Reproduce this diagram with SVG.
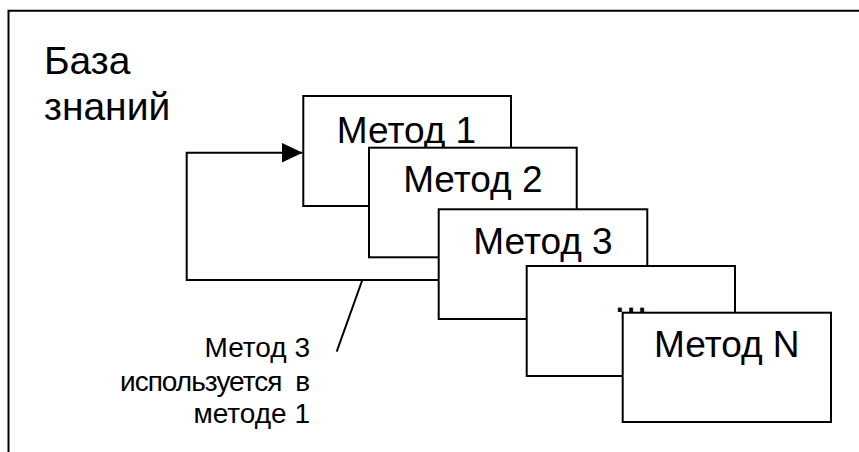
<svg xmlns="http://www.w3.org/2000/svg" width="859" height="452" viewBox="0 0 859 452">
  <defs>
    <style>
      .frame { fill: none; stroke: #000; stroke-width: 2; }
      .box { fill: #fff; stroke: #000; stroke-width: 2; }
      .big { font-family: "Liberation Sans", Arial, sans-serif; font-size: 39px; fill: #000; }
      .lbl { font-family: "Liberation Sans", Arial, sans-serif; font-size: 37px; fill: #000; text-anchor: middle; }
      .note { font-family: "Liberation Sans", Arial, sans-serif; font-size: 28px; fill: #000; text-anchor: end; }
      .conn { fill: none; stroke: #000; stroke-width: 2; }
    </style>
    <marker id="arrow" markerWidth="21" markerHeight="20" refX="21" refY="10" orient="auto" markerUnits="userSpaceOnUse">
      <path d="M0,0 L21,10 L0,20 Z" fill="#000"/>
    </marker>
  </defs>
  <rect width="859" height="452" fill="#fff"/>
  <g id="frame">
    <path class="frame" d="M8.5,452 V10.8 H859"/>
    <text class="big" x="44" y="74">База</text>
    <text class="big" x="44" y="120">знаний</text>
  </g>
  <g id="connectors">
    <path class="conn" d="M439,280 H186.7 V152.7 H302.5" marker-end="url(#arrow)"/>
    <line class="conn" x1="362.3" y1="280" x2="336.7" y2="351.7" stroke-width="1.5"/>
  </g>
  <g id="method1">
    <rect class="box" x="303.3" y="96" width="207.7" height="110"/>
    <text class="lbl" x="406.5" y="142.5">Метод 1</text>
  </g>
  <g id="method2">
    <rect class="box" x="369" y="147.7" width="207.7" height="109.6"/>
    <text class="lbl" x="472.8" y="191.7">Метод 2</text>
  </g>
  <g id="method3">
    <rect class="box" x="438.7" y="209.3" width="208.6" height="109.7"/>
    <text class="lbl" x="543" y="254.3">Метод 3</text>
  </g>
  <g id="methodDots">
    <rect class="box" x="526.7" y="266" width="208.3" height="110"/>
    <text class="lbl" x="631" y="312" style="font-size:40px">...</text>
  </g>
  <g id="methodN">
    <rect class="box" x="622.7" y="312.7" width="208.3" height="109.3"/>
    <text class="lbl" x="726.8" y="357.3">Метод N</text>
  </g>
  <g id="note">
    <text class="note" x="310" y="357">Метод 3</text>
    <text class="note" x="310" y="391" xml:space="preserve" textLength="190" lengthAdjust="spacing">используется  в</text>
    <text class="note" x="310" y="423">методе 1</text>
  </g>
</svg>
